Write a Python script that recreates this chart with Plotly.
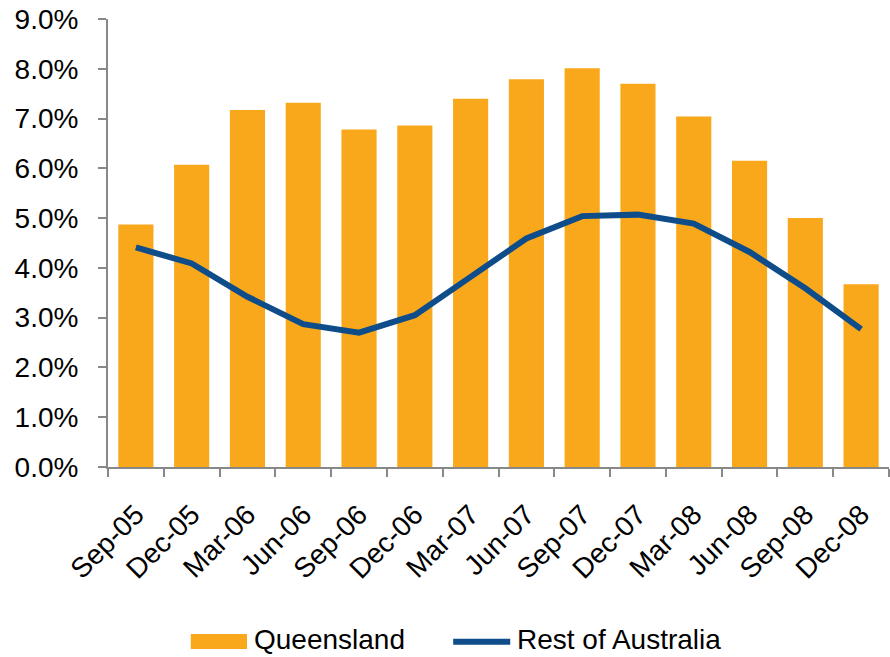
import plotly.graph_objects as go

quarters = ["Sep-05", "Dec-05", "Mar-06", "Jun-06", "Sep-06", "Dec-06", "Mar-07",
            "Jun-07", "Sep-07", "Dec-07", "Mar-08", "Jun-08", "Sep-08", "Dec-08"]
queensland = [4.87, 6.07, 7.17, 7.32, 6.78, 6.86, 7.40, 7.79, 8.01, 7.70, 7.04, 6.15, 5.00, 3.67]
rest_of_australia = [4.41, 4.09, 3.42, 2.87, 2.70, 3.05, 3.82, 4.59, 5.04, 5.07, 4.89, 4.32, 3.59, 2.77]
y_ticks = [0, 1, 2, 3, 4, 5, 6, 7, 8, 9]
series_names = ["Queensland", "Rest of Australia"]

FONT = "Liberation Sans, Arial, sans-serif"
ORANGE = "#F9A81C"
BLUE = "#0F4C8A"
AXIS = "#888888"
FS = 28

fig = go.Figure()
fig.add_trace(go.Bar(
    x=quarters, y=queensland, name=series_names[0],
    marker=dict(color=ORANGE, line=dict(width=0)),
    showlegend=False,
))
fig.add_trace(go.Scatter(
    x=quarters, y=rest_of_australia, name=series_names[1],
    mode="lines", line=dict(color=BLUE, width=6),
    showlegend=False,
))

# Legend drawn below the axis with wide key symbols
legend_y = -0.39
fig.add_shape(type="rect", xref="paper", yref="paper",
              x0=0.106, x1=0.178, y0=-0.406, y1=-0.373,
              fillcolor=ORANGE, line=dict(width=0))
fig.add_shape(type="line", xref="paper", yref="paper",
              x0=0.442, x1=0.515, y0=legend_y, y1=legend_y,
              line=dict(color=BLUE, width=6))
for name, x_left in zip(series_names, [0.186, 0.522]):
    fig.add_annotation(text=name, xref="paper", yref="paper",
                       x=x_left, y=legend_y + 0.004, xanchor="left", yanchor="middle",
                       showarrow=False, borderpad=0,
                       font=dict(family=FONT, size=28, color="black"))

fig.update_layout(
    width=890, height=657,
    margin=dict(l=108, r=1, t=19, b=190, autoexpand=False),
    paper_bgcolor="white", plot_bgcolor="white",
    bargap=0.37,
    font=dict(family=FONT, size=FS, color="black"),
)
fig.update_xaxes(
    type="category", tickangle=-45, automargin=False,
    showline=True, linecolor=AXIS, linewidth=2,
    ticks="outside", tickson="boundaries", ticklen=8, tickcolor=AXIS, tickwidth=2,
    ticklabelstandoff=18,
    showgrid=False, zeroline=False,
    tickfont=dict(family=FONT, size=FS, color="black"),
)
fig.update_yaxes(
    range=[0, 9], tickvals=y_ticks, ticktext=[f"{v:.1f}%" for v in y_ticks],
    automargin=False,
    showline=True, linecolor=AXIS, linewidth=2,
    ticks="outside", ticklen=8, tickcolor=AXIS, tickwidth=2,
    ticklabelstandoff=14,
    showgrid=False, zeroline=False,
    tickfont=dict(family=FONT, size=FS, color="black"),
)

fig.write_html("out.html")
